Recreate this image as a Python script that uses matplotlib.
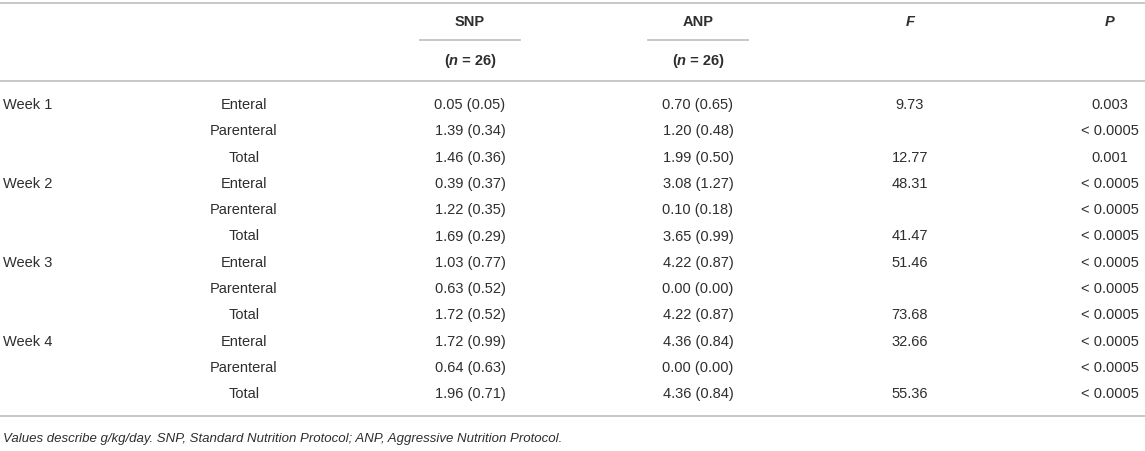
import matplotlib
matplotlib.use("Agg")
import matplotlib.pyplot as plt
from matplotlib.lines import Line2D

####################
# Data
####################

weeks = ["Week 1", "Week 2", "Week 3", "Week 4"]
parts = ["Enteral", "Parenteral", "Total"]

snp_vals = ["0.05 (0.05)", "1.39 (0.34)", "1.46 (0.36)",
            "0.39 (0.37)", "1.22 (0.35)", "1.69 (0.29)",
            "1.03 (0.77)", "0.63 (0.52)", "1.72 (0.52)",
            "1.72 (0.99)", "0.64 (0.63)", "1.96 (0.71)"]
anp_vals = ["0.70 (0.65)", "1.20 (0.48)", "1.99 (0.50)",
            "3.08 (1.27)", "0.10 (0.18)", "3.65 (0.99)",
            "4.22 (0.87)", "0.00 (0.00)", "4.22 (0.87)",
            "4.36 (0.84)", "0.00 (0.00)", "4.36 (0.84)"]
f_vals = ["9.73", "", "12.77",
          "48.31", "", "41.47",
          "51.46", "", "73.68",
          "32.66", "", "55.36"]
p_vals = ["0.003", "< 0.0005", "0.001",
          "< 0.0005", "< 0.0005", "< 0.0005",
          "< 0.0005", "< 0.0005", "< 0.0005",
          "< 0.0005", "< 0.0005", "< 0.0005"]

footnote = "Values describe g/kg/day. SNP, Standard Nutrition Protocol; ANP, Aggressive Nutrition Protocol."

####################
# Layout
####################

W, H = 1145, 451
txt_col = "#2e2e2e"
rule_col = "#c4c4c4"
fs = 10.5

plt.rcParams["font.family"] = ["Liberation Sans", "DejaVu Sans"]

fig = plt.figure(figsize=(W / 100, H / 100), dpi=100)
ax = fig.add_axes([0, 0, 1, 1])
ax.set_xlim(0, W)
ax.set_ylim(H, 0)
ax.axis("off")


def hline(x0, x1, y):
    ax.add_line(Line2D([x0, x1], [y, y], color=rule_col, lw=1.3))


def put(x, y, s, ha="center", **kw):
    ax.text(x, y, s, ha=ha, va="center", color=txt_col, fontsize=fs, **kw)


col_part = 244
col_snp = 470
col_anp = 698
col_f = 910
col_p = 1110

# header
hline(0, W, 3)
put(col_snp, 22, "SNP", weight="bold")
put(col_anp, 22, "ANP", weight="bold")
put(col_f, 22, "F", weight="bold", style="italic")
put(col_p, 22, "P", weight="bold", style="italic")
hline(420, 520, 40)
hline(648, 748, 40)

# "(n = 26)" with italic n, built from pieces
fig.canvas.draw()
r = fig.canvas.get_renderer()
for cx in [col_snp, col_anp]:
    pieces = [("(", "normal"), ("n", "italic"), (" = 26)", "normal")]
    objs = []
    for s, st in pieces:
        t = ax.text(0, 61, s, ha="left", va="center", color=txt_col,
                    fontsize=fs, weight="bold", style=st)
        objs.append(t)
    widths = [t.get_window_extent(r).width for t in objs]
    x = cx - sum(widths) / 2
    for t, w in zip(objs, widths):
        t.set_x(x)
        x += w
hline(0, W, 81)

# body
y0 = 105
dy = 26.3
for i in range(len(snp_vals)):
    y = y0 + i * dy
    if i % 3 == 0:
        put(3, y, weeks[i // 3], ha="left")
    put(col_part, y, parts[i % 3])
    put(col_snp, y, snp_vals[i])
    put(col_anp, y, anp_vals[i])
    if f_vals[i]:
        put(col_f, y, f_vals[i])
    put(col_p, y, p_vals[i])

hline(0, W, 416)

ax.text(3, 439, footnote, ha="left", va="center", color=txt_col,
        fontsize=9.5, style="italic")

fig.savefig("out.png", dpi=100)
